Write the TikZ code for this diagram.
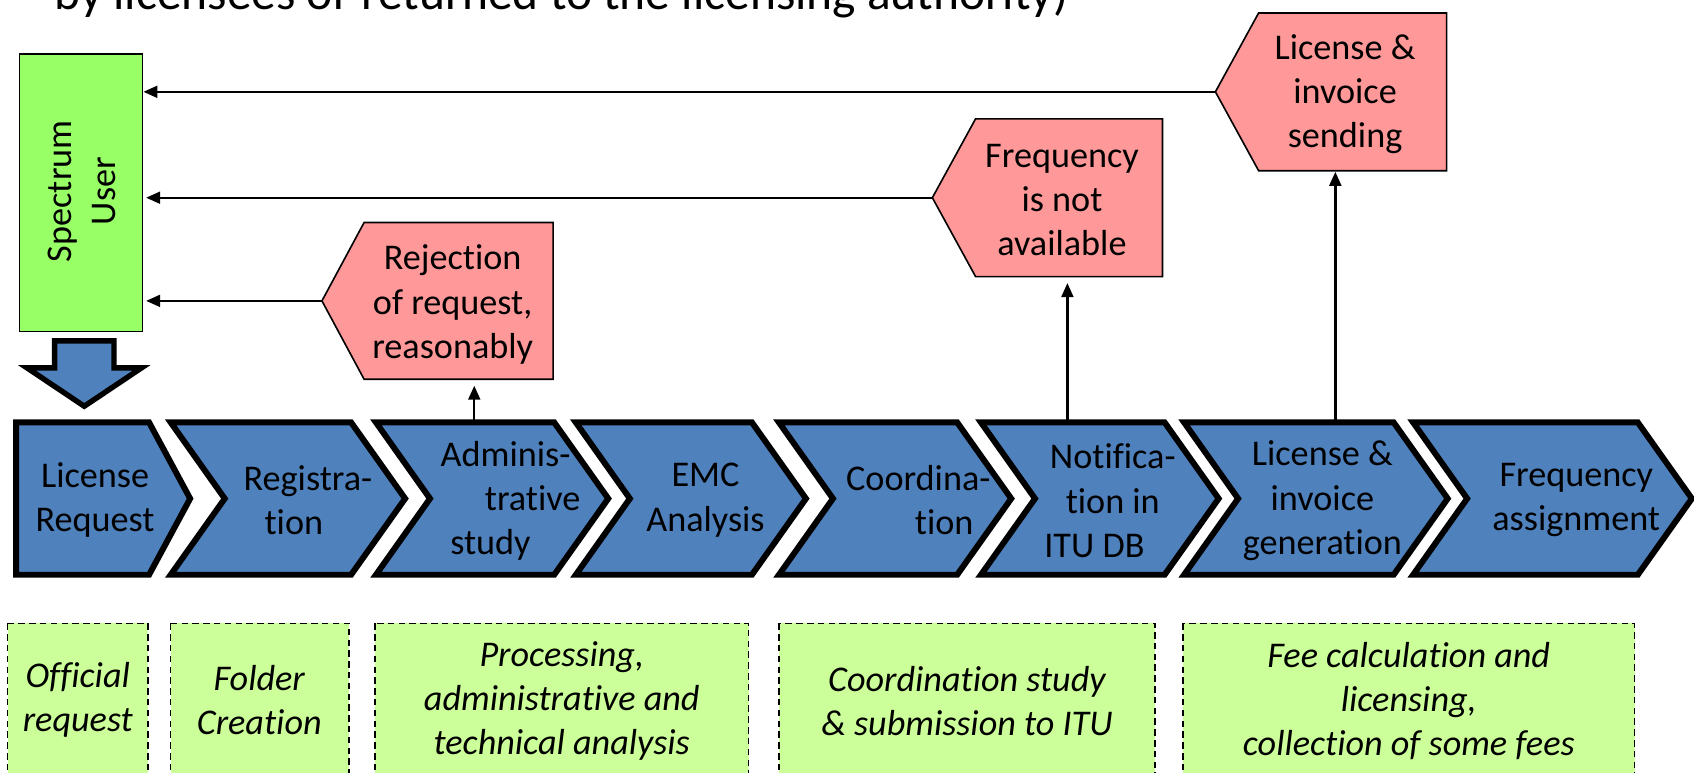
\documentclass[tikz,border=0pt]{standalone}
\usepackage{fontspec}
\setmainfont{Carlito}[Ligatures={NoCommon,NoContextual}]
\usetikzlibrary{arrows.meta}
\definecolor{chevblue}{HTML}{4F81BD}
\definecolor{pinkc}{HTML}{FF9999}
\definecolor{usergreen}{HTML}{99FF66}
\definecolor{notegreen}{HTML}{CCFF99}
\begin{document}
\begin{tikzpicture}[x=1pt,y=-1pt,
  chev/.style={fill=chevblue,draw=black,line width=5.5pt,line join=miter,miter limit=10},
  lbl/.style={align=center,inner sep=0pt,font=\fontsize{33.5}{41}\selectfont},
  ital/.style={align=center,inner sep=0pt,font=\fontsize{33.5}{41}\selectfont\itshape},
  pinkbox/.style={fill=pinkc,draw=black,line width=1.5pt,line join=miter},
  arr/.style={line width=2.2pt,-{Triangle[length=13pt,width=11pt]}},
  note/.style={fill=notegreen,draw=black,line width=1.3pt,dash pattern=on 6pt off 4pt}]
\useasboundingbox (0,0) rectangle (1568,714.6);
\clip (0,0) rectangle (1568,714.6);

% top (cut) text line
\node[anchor=base west,inner sep=0pt,font=\fontsize{45.8}{55}\selectfont] (title) at (50,9)
  {by licensees or returned to the licensing authority)};

% spectrum user
\node[draw=black,line width=1.5pt,fill=usergreen,minimum width=114pt,minimum height=257pt,inner sep=0pt] (su) at (75,178.5) {};
\node[lbl,rotate=90] (sutext) at (76,177) {Spectrum\\User};

% block arrow down
\draw[fill=chevblue,draw=black,line width=5pt,line join=miter]
  (50.5,315.5) -- (105.5,315.5) -- (105.5,340.5) -- (131,340.5) -- (78,376) -- (25,340.5) -- (50.5,340.5) -- cycle;

% chevrons
\draw[chev] (15,391) -- (138,391) -- (176,461.5) -- (138,532) -- (15,532) -- cycle;
\foreach \L/\R in {158/325,348/513,533/696,721/886,908/1078,1096/1290,1308/1516}{
  \draw[chev] (\L,391) -- (\R,391) -- (\R+50,461.5) -- (\R,532) -- (\L,532) -- (\L+50,461.5) -- cycle;
}
\node[lbl] (c1) at (88,463) {License\\Request};
\node[lbl] (c2) at (285,463) {Registra-\\tion\hspace*{26pt}};
\node[lbl] (c3) at (468,463.5) {Adminis-\\\hspace*{50pt}trative\\study\hspace*{28pt}};
\node[lbl] (c4) at (653,463) {EMC\\Analysis};
\node[lbl] (c5) at (850,463) {Coordina-\\\hspace*{48pt}tion};
\node[lbl] (c6) at (1030,463.5) {Notifica-\\tion in\\ITU DB\hspace*{34pt}};
\node[lbl] (c7) at (1224,463.5) {License \&\\invoice\\generation};
\node[lbl] (c8) at (1459,463) {Frequency\\assignment};

\coordinate (c3top) at (439,391);
\coordinate (c6top) at (988,391);
\coordinate (c7top) at (1236,391);

% pink boxes
\draw[pinkbox] (298,278.5) coordinate (rejtip) -- (337,206) -- (512,206) -- (512,351) -- (337,351) -- cycle;
\coordinate (rejbot) at (439,351);
\node[lbl] (rej) at (419,282) {Rejection\\of request,\\reasonably};

\draw[pinkbox] (863,183) coordinate (freqtip) -- (903,110) -- (1076,110) -- (1076,256) -- (903,256) -- cycle;
\coordinate (freqbot) at (988,256);
\node[lbl] (freq) at (983,185) {Frequency\\is not\\available};

\draw[pinkbox] (1125,85) coordinate (lictip) -- (1165,12) -- (1339,12) -- (1339,158) -- (1165,158) -- cycle;
\coordinate (licbot) at (1236,158);
\node[lbl] (lic) at (1245,87) {License \&\\invoice\\sending};

% arrows
\draw[arr] (lictip) -- (lictip -| su.east);
\draw[arr,shorten >=2.5pt] (freqtip) -- (freqtip -| su.east);
\draw[arr,shorten >=2.5pt] (rejtip) -- (rejtip -| su.east);
\draw[arr,shorten >=6pt] (c3top) -- (rejbot);
\draw[arr,shorten >=6pt] (c6top) -- (freqbot);
\draw[arr,shorten >=1pt] (c7top) -- (licbot);

% notes
\draw[note] (7,577) rectangle (137,740);
\draw[note] (158,577) rectangle (323,740);
\draw[note] (347,577) rectangle (693,740);
\draw[note] (721,577) rectangle (1069,740);
\draw[note] (1095,577) rectangle (1513,740);
\node[ital] (n1) at (72,648) {Official\\request};
\node[ital] (n2) at (240,648) {Folder\\Creation};
\node[ital] (n3) at (520,649) {Processing,\\administrative and\\technical analysis};
\node[ital] (n4) at (895,649) {Coordination study\\\& submission to ITU};
\node[ital] (n5) at (1304,649) {Fee calculation and\\licensing,\\collection of some fees};
\end{tikzpicture}
\end{document}
